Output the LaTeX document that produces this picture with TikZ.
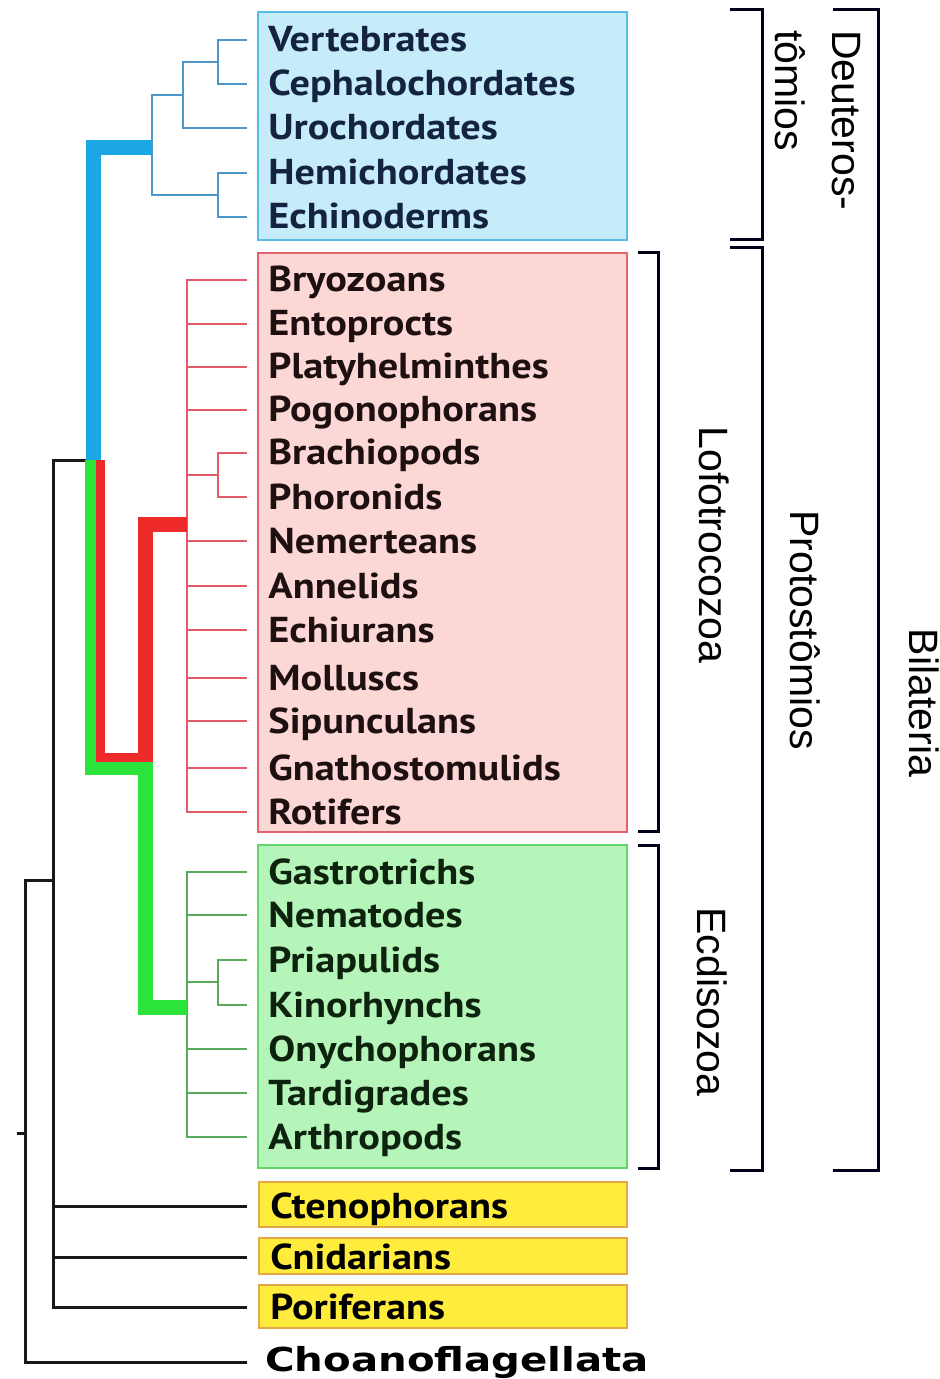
\documentclass[tikz,border=0pt]{standalone}
\usepackage{fontspec}
\setmainfont{Liberation Sans}
\newfontfamily\leaffont{PT Sans}[FakeStretch=1.12]
\newfontfamily\rootfont{DejaVu Sans}[FakeStretch=1.22]
\usetikzlibrary{calc}

\definecolor{deutfill}{HTML}{C6ECFA}
\definecolor{deutline}{HTML}{5ABCE6}
\definecolor{deutthin}{HTML}{4C96C8}
\definecolor{deutthick}{HTML}{1BA6E4}
\definecolor{deuttext}{HTML}{14233F}
\definecolor{lophfill}{HTML}{FBD8D5}
\definecolor{lophline}{HTML}{E5636E}
\definecolor{lophthin}{HTML}{E35B6A}
\definecolor{lophthick}{HTML}{EE2A2A}
\definecolor{lophtext}{HTML}{1E0F10}
\definecolor{ecdyfill}{HTML}{B5F5BA}
\definecolor{ecdyline}{HTML}{62D66A}
\definecolor{ecdythin}{HTML}{5AAA5E}
\definecolor{ecdythick}{HTML}{2BE33A}
\definecolor{ecdytext}{HTML}{0E230E}
\definecolor{basalfill}{HTML}{FFEC3C}
\definecolor{basalline}{HTML}{E3A84A}

\tikzset{
  leaf/.style={anchor=west,inner sep=0pt,text height=15pt,text depth=3pt,
    font=\leaffont\bfseries\fontsize{18}{20}\selectfont},
  clade/.style={inner sep=0pt,rotate=-90,text height=0.72em,text depth=0pt,
    font=\fontsize{20.5}{24}\selectfont},
  thinlink/.style={line width=1pt},
  blacklink/.style={line width=1.5pt,black!90},
  stem/.style={line width=7.5pt},
  brace/.style={line width=1.5pt,black!90!blue}
}

\begin{document}
\begin{tikzpicture}[x=0.5pt,y=-0.5pt]
\useasboundingbox (0,0) rectangle (940,1379);

% boxes
\draw[fill=deutfill,draw=deutline,line width=1pt] (258,12) rectangle (627,240);
\draw[fill=lophfill,draw=lophline,line width=1pt] (258,253) rectangle (627,832);
\draw[fill=ecdyfill,draw=ecdyline,line width=1pt] (258,845) rectangle (627,1168);
\draw[fill=basalfill,draw=basalline,line width=1pt] (259,1182) rectangle (627,1227);
\draw[fill=basalfill,draw=basalline,line width=1pt] (259,1238) rectangle (627,1274);
\draw[fill=basalfill,draw=basalline,line width=1pt] (259,1285) rectangle (627,1328);

% taxa
\node[leaf,text=deuttext] (vert) at (268,40) {Vertebrates};
\node[leaf,text=deuttext] (ceph) at (268,84) {Cephalochordates};
\node[leaf,text=deuttext] (uroc) at (268,128) {Urochordates};
\node[leaf,text=deuttext] (hemi) at (268,173) {Hemichordates};
\node[leaf,text=deuttext] (echi) at (268,217) {Echinoderms};

\node[leaf,text=lophtext] (bryo) at (268,280) {Bryozoans};
\node[leaf,text=lophtext] (ento) at (268,324) {Entoprocts};
\node[leaf,text=lophtext] (plat) at (268,367) {Platyhelminthes};
\node[leaf,text=lophtext] (pogo) at (268,410) {Pogonophorans};
\node[leaf,text=lophtext] (brac) at (268,453) {Brachiopods};
\node[leaf,text=lophtext] (phor) at (268,497) {Phoronids};
\node[leaf,text=lophtext] (neme) at (268,541) {Nemerteans};
\node[leaf,text=lophtext] (anne) at (268,586) {Annelids};
\node[leaf,text=lophtext] (echu) at (268,630) {Echiurans};
\node[leaf,text=lophtext] (moll) at (268,678) {Molluscs};
\node[leaf,text=lophtext] (sipu) at (268,721) {Sipunculans};
\node[leaf,text=lophtext] (gnat) at (268,768) {Gnathostomulids};
\node[leaf,text=lophtext] (roti) at (268,812) {Rotifers};

\node[leaf,text=ecdytext] (gast) at (268,872) {Gastrotrichs};
\node[leaf,text=ecdytext] (nema) at (268,915) {Nematodes};
\node[leaf,text=ecdytext] (pria) at (268,960) {Priapulids};
\node[leaf,text=ecdytext] (kino) at (268,1005) {Kinorhynchs};
\node[leaf,text=ecdytext] (onyc) at (268,1049) {Onychophorans};
\node[leaf,text=ecdytext] (tard) at (268,1093) {Tardigrades};
\node[leaf,text=ecdytext] (arth) at (268,1137) {Arthropods};

\node[leaf] (cten) at (270,1206) {Ctenophorans};
\node[leaf] (cnid) at (270,1257) {Cnidarians};
\node[leaf] (pori) at (270,1307) {Poriferans};
\node[anchor=west,inner sep=0pt,text height=12pt,text depth=3pt,
  font=\rootfont\bfseries\fontsize{16.5}{18}\selectfont] (choa) at (265,1362) {Choanoflagellata};

% branch points
\coordinate (tip) at (247,0);
\coordinate (cA) at (218,62);
\coordinate (cB) at (183,95);
\coordinate (cC) at (218,195);
\coordinate (cD) at (152,148);
\coordinate (cE) at (93,460);
\coordinate (cF) at (218,475);
\coordinate (cR) at (187,524);
\coordinate (cP) at (145,757);
\coordinate (cG) at (187,1007);
\coordinate (cH) at (218,982);
\coordinate (cK) at (53,880);
\coordinate (cL) at (25,1133);

% deuterostomes
\draw[thinlink,deutthin] (cA) |- (tip|-vert) (cA) |- (tip|-ceph)
  (cB) |- (cA) (cB) |- (tip|-uroc)
  (cC) |- (tip|-hemi) (cC) |- (tip|-echi)
  (cD) |- (cB) (cD) |- (cC);

% lophotrochozoans
\draw[thinlink,lophthin] (cR) |- (tip|-bryo) (cR) |- (tip|-ento) (cR) |- (tip|-plat)
  (cR) |- (tip|-pogo) (cR) |- (cF) (cF) |- (tip|-brac) (cF) |- (tip|-phor)
  (cR) |- (tip|-neme) (cR) |- (tip|-anne) (cR) |- (tip|-echu) (cR) |- (tip|-moll)
  (cR) |- (tip|-sipu) (cR) |- (tip|-gnat) (cR) |- (tip|-roti);

% ecdysozoans
\draw[thinlink,ecdythin] (cG) |- (tip|-gast) (cG) |- (tip|-nema) (cG) |- (cH)
  (cH) |- (tip|-pria) (cH) |- (tip|-kino)
  (cG) |- (tip|-onyc) (cG) |- (tip|-tard) (cG) |- (tip|-arth);

% basal animals
\draw[blacklink] (cK) |- (cE) (cK) |- (tip|-cten) (cK) |- (tip|-cnid) (cK) |- (tip|-pori)
  (cL) |- (cK) (cL) |- (tip|-choa) (cL) -- ++(-8,0);

% thick stems
\draw[stem,deutthick] (cE) |- (cD);
\draw[stem,ecdythick] ($(cE)+(-1,0)$) |- ($(cP)+(0,10)$) |- (cG);
\draw[lophthick,line width=4.5pt] ($(cE)+(7,0)$) |- (cP);
\draw[stem,lophthick] ($(cP)+(0,5)$) |- (cR);

% clade brackets
\draw[brace] (730,10) -- (762,10) -- (762,240) -- (730,240);
\draw[brace] (730,248) -- (762,248) -- (762,1170) -- (730,1170);
\draw[brace] (638,253) -- (658,253) -- (658,831) -- (638,831);
\draw[brace] (638,845) -- (658,845) -- (658,1168) -- (638,1168);
\draw[brace] (833,10) -- (878,10) -- (878,1170) -- (833,1170);

\node[inner sep=0pt,rotate=-90,anchor=north west,align=left,
  font=\fontsize{20.5}{28.5}\selectfont] (deut) at (861,30) {Deuteros-\\tômios};
\node[clade] (loph) at (707,545) {Lofotrocozoa};
\node[clade] (ecdy) at (705,1002) {Ecdisozoa};
\node[clade] (prot) at (798,630) {Protostômios};
\node[clade] (bila) at (917,703) {Bilateria};
\end{tikzpicture}
\end{document}
